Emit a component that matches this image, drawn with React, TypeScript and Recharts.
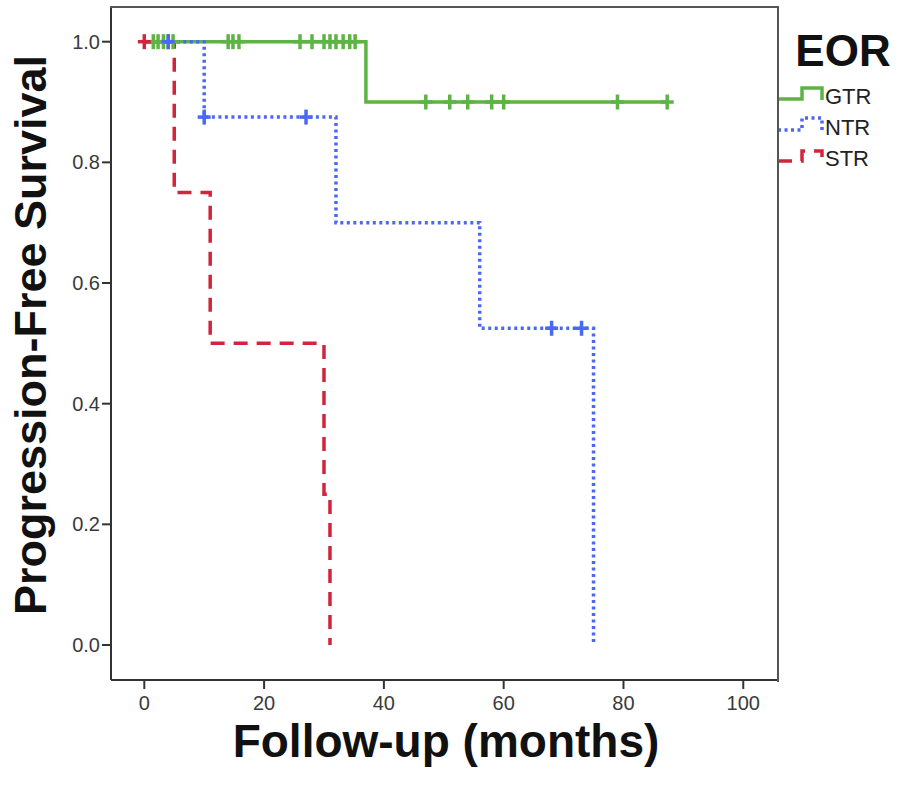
import { ComposedChart, Line, Scatter, XAxis, YAxis } from "recharts"

// Kaplan-Meier steps (months, survival)
const gtrTimes = [0, 37, 87.5]
const gtrSurv = [1, 0.9, 0.9]
const ntrTimes = [0, 10, 32, 56, 75]
const ntrSurv = [1, 0.875, 0.7, 0.525, 0]
const strTimes = [0, 5, 11, 30, 31]
const strSurv = [1, 0.75, 0.5, 0.25, 0]

// censored cases
const gtrCensorTimes = [1.5, 2.3, 3.2, 4, 4.8, 14, 14.8, 15.8, 26, 28, 30, 31, 32, 33.2, 34.3, 35.2, 47, 51, 54, 58, 60, 79, 87.3]
const gtrCensorSurv = [1, 1, 1, 1, 1, 1, 1, 1, 1, 1, 1, 1, 1, 1, 1, 1, 0.9, 0.9, 0.9, 0.9, 0.9, 0.9, 0.9]
const ntrCensorTimes = [4, 10, 27, 68, 73]
const ntrCensorSurv = [1, 0.875, 0.875, 0.525, 0.525]
const strCensorTimes = [0]
const strCensorSurv = [1]

const xTicks = [0, 20, 40, 60, 80, 100]
const yTicks = [0, 0.2, 0.4, 0.6, 0.8, 1.0]

const GREEN = "#5db445"
const BLUE = "#4b67f6"
const RED = "#d2253b"
const FONT = "'Liberation Sans', Arial, Helvetica, sans-serif"

const X_MIN = -5.56
const X_MAX = 105.8
const Y_MIN = -0.058
const Y_MAX = 1.0575

const toPoints = (ts: number[], ss: number[]) => ts.map((t, i) => ({ t, s: ss[i] }))

const plus = (color: string) => (props: any) => {
  const { cx, cy } = props
  return (
    <g stroke={color} strokeWidth={3.5}>
      <line x1={cx - 6.5} y1={cy} x2={cx + 6.5} y2={cy} />
      <line x1={cx} y1={cy - 7.5} x2={cx} y2={cy + 7.5} />
    </g>
  )
}

export default function App() {
  return (
    <div style={{ position: "fixed", left: 0, top: 0, width: 900, height: 790, background: "#fff" }}>
      <ComposedChart
        width={900}
        height={790}
        margin={{ top: 7, right: 122, left: 0, bottom: 0 }}
      >
        <XAxis
          type="number"
          dataKey="t"
          domain={[X_MIN, X_MAX]}
          ticks={xTicks}
          allowDataOverflow
          height={110}
          tickSize={9}
          tickMargin={7}
          stroke="#333"
          strokeWidth={2}
          tick={{ fill: "#3a3a3a", fontSize: 20, fontFamily: FONT }}
        />
        <YAxis
          type="number"
          dataKey="s"
          domain={[Y_MIN, Y_MAX]}
          ticks={yTicks}
          allowDataOverflow
          width={111}
          tickSize={9}
          tickMargin={2}
          stroke="#333"
          strokeWidth={2}
          tickFormatter={(v: number) => v.toFixed(1)}
          tick={{ fill: "#3a3a3a", fontSize: 20, fontFamily: FONT }}
        />

        <Line data={toPoints(gtrTimes, gtrSurv)} dataKey="s" type="stepAfter" stroke={GREEN} strokeWidth={3.5} dot={false} isAnimationActive={false} />
        <Line data={toPoints(ntrTimes, ntrSurv)} dataKey="s" type="stepAfter" stroke={BLUE} strokeWidth={3.5} strokeDasharray="3 3.5" dot={false} isAnimationActive={false} />
        <Line data={toPoints(strTimes, strSurv)} dataKey="s" type="stepAfter" stroke={RED} strokeWidth={3.5} strokeDasharray="14 9" dot={false} isAnimationActive={false} />

        <Scatter data={toPoints(gtrCensorTimes, gtrCensorSurv)} dataKey="s" shape={plus(GREEN)} isAnimationActive={false} />
        <Scatter data={toPoints(ntrCensorTimes, ntrCensorSurv)} dataKey="s" shape={plus(BLUE)} isAnimationActive={false} />
        <Scatter data={toPoints(strCensorTimes, strCensorSurv)} dataKey="s" shape={plus(RED)} isAnimationActive={false} />

        <text x={446} y={757} textAnchor="middle" fontFamily={FONT} fontWeight="bold" fontSize={46} fill="#111">
          Follow-up (months)
        </text>
        <text x={46} y={335} transform="rotate(-90 46 335)" textAnchor="middle" fontFamily={FONT} fontWeight="bold" fontSize={45} fill="#111">
          Progression-Free Survival
        </text>

        {/* legend */}
        <text x={843} y={66} textAnchor="middle" fontFamily={FONT} fontWeight="bold" fontSize={44} fill="#111">EOR</text>
        <path d="M778 99 H802 V88 H822 V100" fill="none" stroke={GREEN} strokeWidth={3.5} />
        <path d="M778 130 H802 V118 H822 V131" fill="none" stroke={BLUE} strokeWidth={3.5} strokeDasharray="3 3.5" />
        <path d="M778 161 H802 V151 H822 V162" fill="none" stroke={RED} strokeWidth={3.5} strokeDasharray="14 9" />
        <text x={825} y={104} fontFamily={FONT} fontSize={22} fill="#222">GTR</text>
        <text x={825} y={135} fontFamily={FONT} fontSize={22} fill="#222">NTR</text>
        <text x={825} y={166} fontFamily={FONT} fontSize={22} fill="#222">STR</text>
      </ComposedChart>
      {/* top and right edges of the plot frame */}
      <div
        style={{
          position: "absolute",
          left: 110,
          top: 6,
          width: 667,
          height: 674,
          borderTop: "2px solid #555",
          borderRight: "2px solid #555",
          pointerEvents: "none",
        }}
      />
    </div>
  )
}
